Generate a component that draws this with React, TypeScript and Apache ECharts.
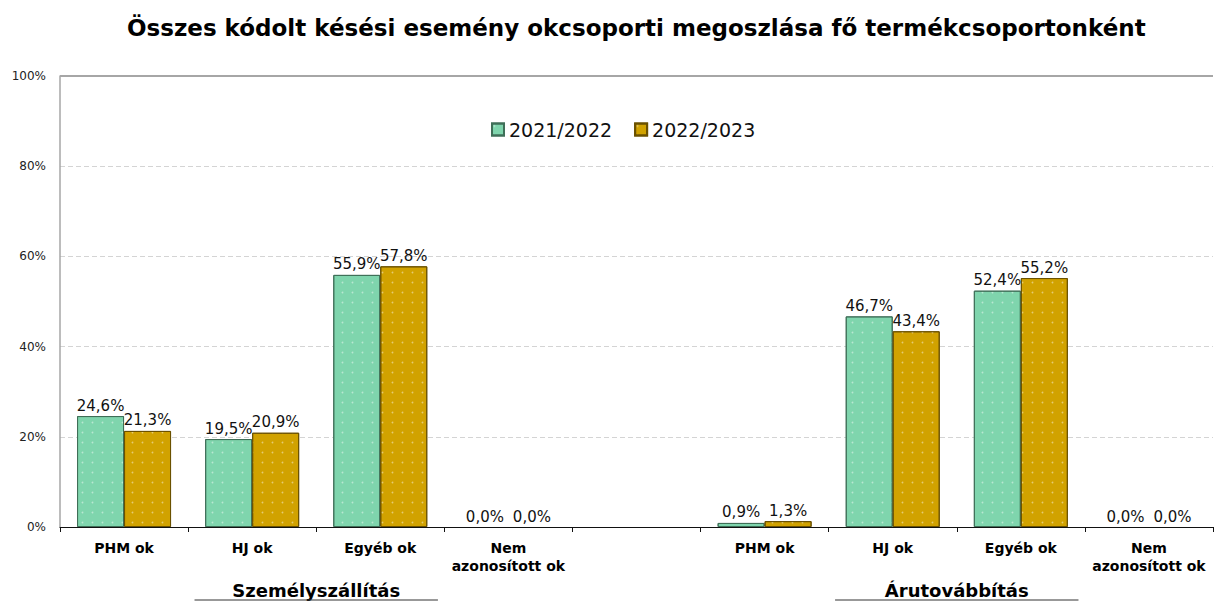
import React, { useEffect, useRef } from "react";
import * as echarts from "echarts";

const TITLE = "Összes kódolt késési esemény okcsoporti megoszlása fő termékcsoportonként";
const CATEGORIES = ["PHM ok", "HJ ok", "Egyéb ok", "Nem\nazonosított ok", "", "PHM ok", "HJ ok", "Egyéb ok", "Nem\nazonosított ok"];
const SERIES_NAMES = ["2021/2022", "2022/2023"];
const VALUES_2122: (number | string)[] = [24.6, 19.5, 55.9, 0.0, "-", 0.9, 46.7, 52.4, 0.0];
const VALUES_2223: (number | string)[] = [21.3, 20.9, 57.8, 0.0, "-", 1.3, 43.4, 55.2, 0.0];
const GROUPS = [
  { name: "Személyszállítás", from: 0, to: 3 },
  { name: "Árutovábbítás", from: 5, to: 8 },
];
const Y_MIN = 0;
const Y_MAX = 100;
const Y_INTERVAL = 20;

const FONT = "'DejaVu Sans', Verdana, sans-serif";

export default function App() {
  const ref = useRef<HTMLDivElement>(null);
  useEffect(() => {
    if (!ref.current) return;
    const chart = echarts.init(ref.current, undefined, { renderer: "svg" });
    const fmt = (p: any) => {
      const v = typeof p.value === "number" ? p.value : parseFloat(p.value);
      if (isNaN(v)) return "";
      return v.toFixed(1).replace(".", ",") + "%";
    };
    const toItems = (data: (number | string)[]) =>
      data.map((v) =>
        v === 0 ? { value: 0, itemStyle: { borderWidth: 0, borderColor: "rgba(0,0,0,0)" } } : v
      );
    const mkSeries = (name: string, data: (number | string)[], color: string, border: string) => ({
      name,
      type: "bar",
      data: toItems(data),
      barWidth: 47,
      barGap: "0%",
      itemStyle: {
        color,
        borderColor: border,
        borderWidth: 1,
        decal: {
          symbol: "circle",
          symbolSize: 0.35,
          color: "rgba(255,255,255,0.45)",
          dashArrayX: 5,
          dashArrayY: 5,
        },
      },
      label: {
        show: true,
        position: "top",
        distance: 3,
        formatter: fmt,
        fontFamily: FONT,
        fontSize: 15,
        color: "#111",
      },
    });
    chart.setOption({
      animation: false,
      backgroundColor: "#ffffff",
      title: {
        text: TITLE,
        left: 122,
        top: 11,
        textStyle: { fontFamily: FONT, fontSize: 23, fontWeight: "bold", color: "#000" },
      },
      legend: {
        data: SERIES_NAMES,
        left: 486,
        top: 115,
        itemWidth: 12,
        itemHeight: 12,
        itemGap: 22,
        icon: "rect",
        textStyle: { fontFamily: FONT, fontSize: 19, color: "#111" },
      },
      grid: { left: 60, right: 2, top: 76, bottom: 74, containLabel: false },
      xAxis: {
        type: "category",
        data: CATEGORIES,
        axisLine: { lineStyle: { color: "#111", width: 1 } },
        axisTick: { show: true, length: 5, lineStyle: { color: "#111" } },
        axisLabel: {
          interval: 0,
          margin: 12,
          fontFamily: FONT,
          fontSize: 14,
          fontWeight: "bold",
          color: "#000",
          lineHeight: 18,
        },
      },
      yAxis: {
        type: "value",
        min: Y_MIN,
        max: Y_MAX,
        interval: Y_INTERVAL,
        axisLine: { show: true, lineStyle: { color: "#a6a6a6", width: 1.5 } },
        axisTick: { show: false },
        axisLabel: {
          formatter: "{value}%",
          fontFamily: FONT,
          fontSize: 12,
          color: "#222",
          margin: 14,
        },
        splitLine: { show: true, lineStyle: { color: "#d4d4d4", type: [5, 3], width: 1 } },
      },
      series: [
        mkSeries(SERIES_NAMES[0], VALUES_2122, "#7fd5ad", "#3f6f58"),
        mkSeries(SERIES_NAMES[1], VALUES_2223, "#d1a200", "#6a5100"),
      ],
    });

    const px = (i: number) => chart.convertToPixel({ xAxisIndex: 0 }, i) as number;
    const catW = px(1) - px(0);
    const yTop = chart.convertToPixel({ yAxisIndex: 0 }, Y_MAX) as number;
    const graphics: any[] = [
      {
        type: "line",
        shape: { x1: 60, y1: yTop, x2: 1213, y2: yTop },
        style: { stroke: "#a6a6a6", lineWidth: 2 },
        z: 5,
      },
    ];
    GROUPS.forEach((g) => {
      const cx = (px(g.from) + px(g.to)) / 2;
      graphics.push({
        type: "text",
        x: cx,
        y: 590,
        style: {
          text: g.name,
          fontFamily: FONT,
          fontSize: 18,
          fontWeight: "bold",
          fill: "#000",
          align: "center",
          verticalAlign: "middle",
        },
      });
      graphics.push({
        type: "line",
        shape: { x1: cx - catW * 0.95, y1: 600, x2: cx + catW * 0.95, y2: 600 },
        style: { stroke: "#333", lineWidth: 1 },
      });
    });
    chart.setOption({ graphic: graphics });

    return () => chart.dispose();
  }, []);
  return (
    <div
      ref={ref}
      style={{ position: "fixed", left: 0, top: 0, width: 1215, height: 601, background: "#fff" }}
    />
  );
}
